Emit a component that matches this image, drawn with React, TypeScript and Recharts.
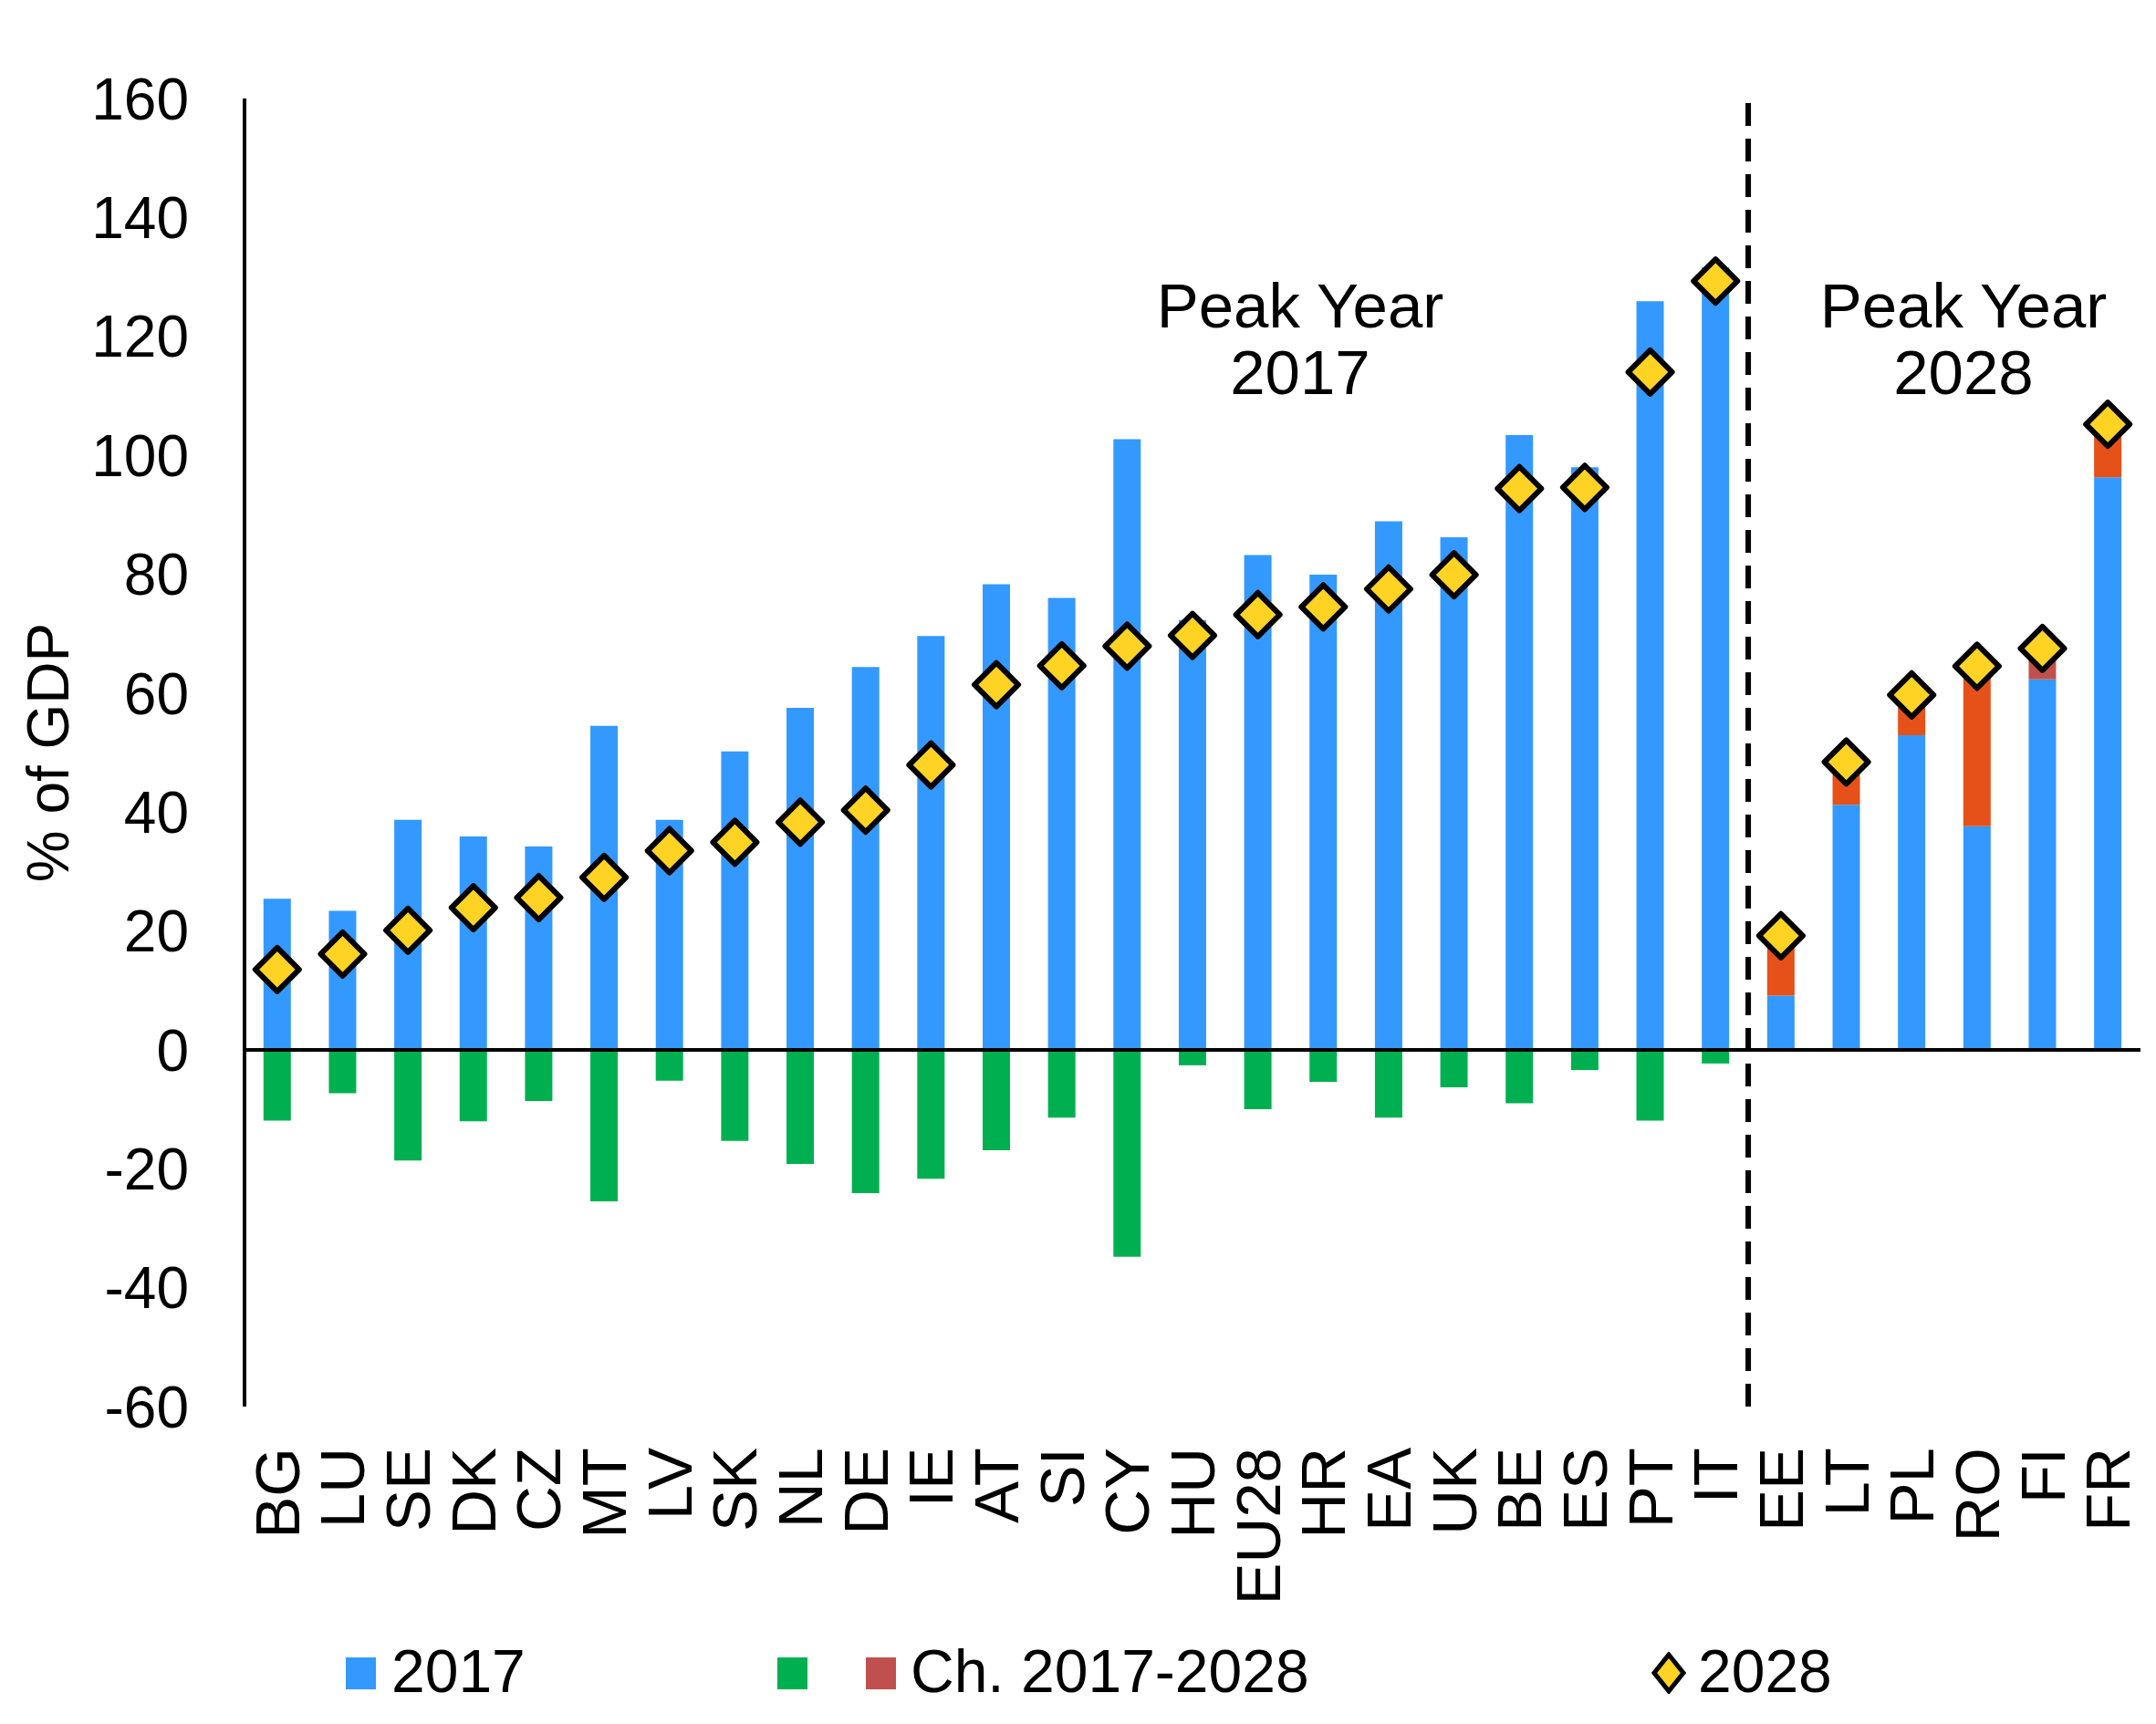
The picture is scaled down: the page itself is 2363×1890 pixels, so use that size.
import React from 'react';
import { ComposedChart, Bar, Line, XAxis, YAxis, ReferenceLine, Cell, Label } from 'recharts';

const categories = ['BG', 'LU', 'SE', 'DK', 'CZ', 'MT', 'LV', 'SK', 'NL', 'DE', 'IE', 'AT', 'SI', 'CY', 'HU', 'EU28', 'HR', 'EA', 'UK', 'BE', 'ES', 'PT', 'IT', 'EE', 'LT', 'PL', 'RO', 'FI', 'FR'];
const debt2017 = [25.4, 23.4, 38.7, 35.9, 34.2, 54.5, 38.7, 50.2, 57.5, 64.4, 69.6, 78.3, 76.0, 102.7, 72.3, 83.2, 79.9, 88.9, 86.2, 103.4, 98.0, 125.9, 131.6, 9.1, 41.2, 52.9, 37.6, 62.3, 96.3];
const debt2028 = [13.5, 16.1, 20.1, 23.9, 25.6, 29.0, 33.5, 34.9, 38.3, 40.3, 47.9, 61.4, 64.6, 67.9, 69.7, 73.2, 74.5, 77.5, 79.9, 94.4, 94.6, 114.0, 129.3, 19.2, 48.4, 59.7, 64.5, 67.5, 105.2];
const yTicks = [-60, -40, -20, 0, 20, 40, 60, 80, 100, 120, 140, 160];

const FONT = '"Liberation Sans", Arial, sans-serif';
const BLUE = '#3399FF';
const GREEN = '#00B050';
const ORANGE = '#E65119';
const RED = '#C0504D';
const GOLD = '#FFD324';

const data = categories.map((cat, i) => {
  const ch = debt2028[i] - debt2017[i];
  return { cat, d17: debt2017[i], d28: debt2028[i], rise: ch > 0 ? ch : 0, fall: ch < 0 ? ch : 0 };
});

const CatTick = (props: any) => {
  const { x, y, payload } = props;
  const tx = x + 24;
  const ty = y + 43;
  return (
    <text x={tx} y={ty} transform={`rotate(-90, ${tx}, ${ty})`} textAnchor="end" fontSize={69} fontFamily={FONT} fill="#000">
      {payload.value}
    </text>
  );
};

const Diamond = (props: any) => {
  const { cx, cy, index } = props;
  if (cx == null || cy == null) return <g key={index} />;
  const r = 24;
  return (
    <polygon
      key={index}
      points={`${cx},${cy - r} ${cx + r},${cy} ${cx},${cy + r} ${cx - r},${cy}`}
      fill={GOLD}
      stroke="#000"
      strokeWidth={6}
      strokeLinejoin="round"
    />
  );
};

const YLabel = (props: any) => {
  const vb = props.viewBox || {};
  const cy = vb.y != null ? vb.y + vb.height / 2 : 826;
  return (
    <text
      x={53}
      y={cy}
      transform={`rotate(-90, 53, ${cy})`}
      textAnchor="middle"
      dominantBaseline="central"
      fontSize={64}
      fontFamily={FONT}
      fill="#000"
    >
      % of GDP
    </text>
  );
};

const noteStyle: React.CSSProperties = {
  position: 'absolute',
  width: 500,
  textAlign: 'center',
  fontSize: 69,
  lineHeight: '73px',
  fontFamily: FONT,
  color: '#000',
};

const legText: React.CSSProperties = {
  position: 'absolute',
  top: 1799,
  fontSize: 66,
  lineHeight: '66px',
  fontFamily: FONT,
  color: '#000',
  whiteSpace: 'nowrap',
};

const swatch = (left: number, color: string): React.CSSProperties => ({
  position: 'absolute',
  left,
  top: 1817,
  width: 33,
  height: 35,
  background: color,
});

export default function App() {
  return (
    <div style={{ position: 'absolute', left: 0, top: 0, width: 2363, height: 1890, background: '#fff' }}>
      <ComposedChart
        width={2363}
        height={1890}
        data={data}
        margin={{ top: 108, right: 17, bottom: 148, left: 0 }}
        barCategoryGap="29%"
        stackOffset="sign"
      >
        <XAxis dataKey="cat" axisLine={false} tickLine={false} interval={0} height={200} tickSize={0} tick={<CatTick />} />
        <YAxis
          domain={[-60, 160]}
          ticks={yTicks}
          width={268}
          tickLine={false}
          tickSize={0}
          tickMargin={61}
          axisLine={{ stroke: '#000', strokeWidth: 4 }}
          tick={{ fontSize: 64, fill: '#000', fontFamily: FONT }}
          label={<Label content={YLabel} />}
        />
        <Bar dataKey="d17" stackId="s" fill={BLUE} isAnimationActive={false} />
        <Bar dataKey="rise" stackId="s" fill={ORANGE} isAnimationActive={false}>
          {data.map((d) => (
            <Cell key={d.cat} fill={d.cat === 'FI' ? RED : ORANGE} />
          ))}
        </Bar>
        <Bar dataKey="fall" stackId="s" fill={GREEN} isAnimationActive={false} />
        <ReferenceLine y={0} stroke="#000" strokeWidth={4} />
        <ReferenceLine x="IT" position="end" stroke="#000" strokeWidth={6} strokeDasharray="25 14" />
        <Line dataKey="d28" stroke="none" dot={Diamond} activeDot={false} isAnimationActive={false} />
      </ComposedChart>

      <div style={{ ...noteStyle, left: 1425 - 250, top: 299 }}>Peak Year<br />2017</div>
      <div style={{ ...noteStyle, left: 2152 - 250, top: 299 }}>Peak Year<br />2028</div>

      <div style={swatch(379, BLUE)} />
      <div style={{ ...legText, left: 429 }}>2017</div>
      <div style={swatch(852, GREEN)} />
      <div style={swatch(949, RED)} />
      <div style={{ ...legText, left: 998 }}>Ch. 2017-2028</div>
      <svg style={{ position: 'absolute', left: 1808, top: 1811 }} width={42} height={46}>
        <polygon points="21,3 37,23 21,43 5,23" fill={GOLD} stroke="#000" strokeWidth={5} />
      </svg>
      <div style={{ ...legText, left: 1861 }}>2028</div>
    </div>
  );
}
